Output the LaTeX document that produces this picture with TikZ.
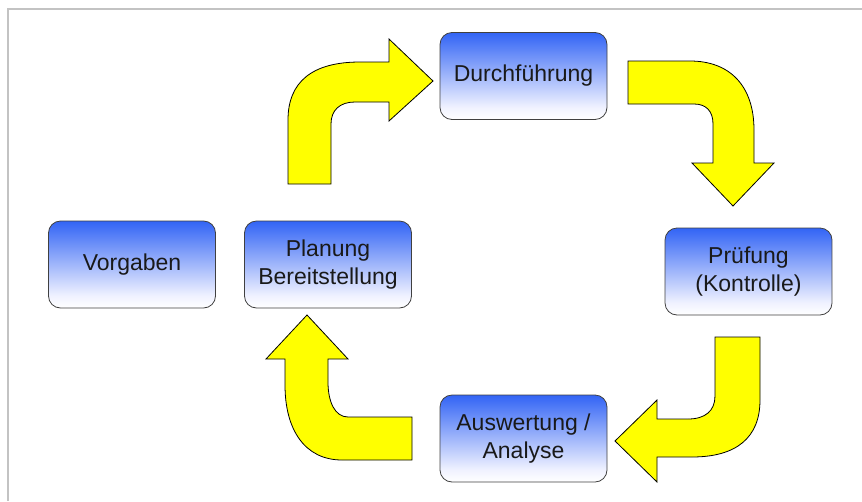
\documentclass[tikz,border=0pt]{standalone}
\usepackage{fontspec}
\setmainfont{Liberation Sans}
\usepackage{xcolor}
\usepackage{tikz}
\usetikzlibrary{positioning}

\definecolor{boxtop}{RGB}{50,100,245}
\definecolor{boxlow}{RGB}{240,242,255}
\definecolor{framegray}{RGB}{195,195,195}
\definecolor{arrowyellow}{RGB}{255,255,0}
\pgfdeclareverticalshading{boxshade}{100bp}{color(0bp)=(white); color(25bp)=(white); color(32bp)=(boxlow); color(75bp)=(boxtop); color(100bp)=(boxtop)}

\begin{document}
\begin{tikzpicture}[
    x=1pt, y=-1pt,
    stepbox/.style={draw=black!75, line width=0.8pt, rounded corners=12pt, shading=boxshade,
        minimum width=167pt, minimum height=87pt, align=center, text=black!90,
        font=\fontsize{23}{28}\selectfont},
    % Block arrow style
    bigarrow/.style={fill=arrowyellow, draw=black, line width=0.8pt, line join=miter},
    ]

    \useasboundingbox (0,0) rectangle (862,501);
    \draw[framegray, line width=1.5pt] (8,501) -- (8,9) -- (862,9);

    % Boxes
    \node[stepbox] (vorgaben) at (132,264.5) {Vorgaben};
    \node[stepbox] (planung) at (328,264.5) {Planung\\Bereitstellung};
    \node[stepbox] (durch) at (523.5,76) {Durchführung};
    \node[stepbox] (pruef) at (748.5,271.5) {Prüfung\\(Kontrolle)};
    \node[stepbox] (ausw) at (523.5,438.5) {Auswertung /\\Analyse};

    % Planung to Durchfuehrung
    \draw[bigarrow] (288,184) -- (288,120) .. controls (288,82) and (312,62) .. (360,62)
        -- (389,62) -- (389,39) -- (433,81) -- (389,121) -- (389,102) -- (355,102)
        .. controls (340,102) and (331,110) .. (331,124) -- (331,184) -- cycle;
    % Durchfuehrung to Pruefung
    \draw[bigarrow] (628,61) -- (690,61) .. controls (730,61) and (754,86) .. (754,130)
        -- (754,163) -- (774,163) -- (733,206) -- (692,163) -- (713,163) -- (713,124)
        .. controls (713,111) and (706,104) .. (694,104) -- (628,104) -- cycle;
    % Pruefung to Auswertung
    \draw[bigarrow] (715,337) -- (760,337) -- (760,400) .. controls (760,438) and (736,457) .. (692,457)
        -- (657,457) -- (657,482) -- (615,441) -- (657,400) -- (657,419) -- (688,419)
        .. controls (705,419) and (715,411) .. (715,396) -- cycle;
    % Auswertung to Planung
    \draw[bigarrow] (412,417) -- (348,417) .. controls (335,417) and (328,402) .. (328,382)
        -- (328,359) -- (348,359) -- (307,315) -- (266,359) -- (285,359) -- (285,385)
        .. controls (285,430) and (305,460) .. (342,460) -- (412,460) -- cycle;

\end{tikzpicture}
\end{document}
